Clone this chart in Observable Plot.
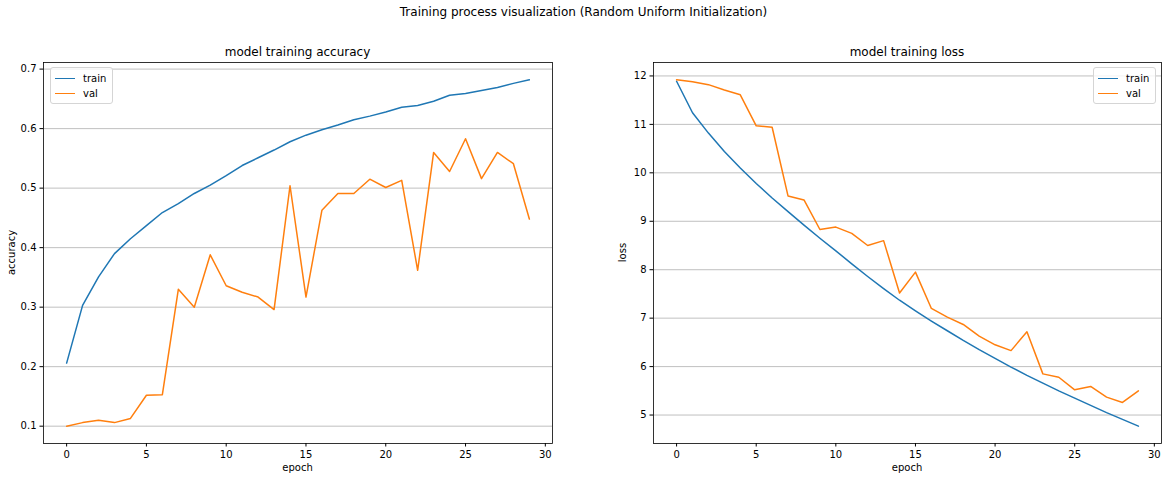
<!DOCTYPE html>
<html>
<head>
<meta charset="utf-8">
<script src="https://cdn.jsdelivr.net/npm/d3@7"></script>
<script src="https://cdn.jsdelivr.net/npm/@observablehq/plot@0.6"></script>
<style>
  html, body { margin: 0; padding: 0; background: #fff; }
  #fig { position: relative; width: 1167px; height: 481px; font-family: "DejaVu Sans", sans-serif; color: #000; overflow: hidden; }
  .abs { position: absolute; }
  .suptitle { left: 0; width: 1167px; top: 5px; text-align: center; font-size: 12px; }
  .title { font-size: 12px; text-align: center; }
  .xlabel { font-size: 10px; text-align: center; }
  .ylabel { font-size: 10px; transform-origin: 0 0; transform: rotate(-90deg); text-align: center; }
  .legend { border: 1px solid #d5d5d5; border-radius: 3px; background: rgba(255,255,255,0.8); font-size: 10px; padding: 3px 6px 2px 4px; box-sizing: border-box; }
  .legend .row { display: flex; align-items: center; height: 15px; }
  .legend .sw { width: 20px; height: 0; border-top: 1.5px solid; margin-right: 8px; }
</style>
</head>
<body>
<div id="fig">
  <div class="abs suptitle">Training process visualization (Random Uniform Initialization)</div>
</div>
<script>
const epochs = d3.range(0, 30);
const trainAcc = [0.206, 0.303, 0.351, 0.390, 0.415, 0.437, 0.459, 0.474, 0.491, 0.505, 0.521, 0.538, 0.551, 0.564, 0.578, 0.589, 0.598, 0.606, 0.615, 0.621, 0.628, 0.636, 0.639, 0.646, 0.656, 0.659, 0.664, 0.669, 0.676, 0.682];
const valAcc = [0.100, 0.106, 0.110, 0.106, 0.113, 0.152, 0.153, 0.330, 0.300, 0.388, 0.336, 0.325, 0.317, 0.296, 0.504, 0.317, 0.463, 0.491, 0.491, 0.515, 0.501, 0.513, 0.362, 0.560, 0.528, 0.583, 0.516, 0.560, 0.541, 0.448];
const trainLoss = [11.89, 11.24, 10.82, 10.44, 10.10, 9.78, 9.48, 9.20, 8.92, 8.65, 8.39, 8.12, 7.86, 7.61, 7.37, 7.15, 6.94, 6.74, 6.54, 6.35, 6.17, 5.99, 5.82, 5.66, 5.50, 5.35, 5.20, 5.05, 4.91, 4.77];
const valLoss = [11.92, 11.88, 11.82, 11.71, 11.61, 10.97, 10.94, 9.52, 9.44, 8.83, 8.88, 8.75, 8.50, 8.60, 7.52, 7.95, 7.20, 7.02, 6.87, 6.63, 6.45, 6.33, 6.72, 5.85, 5.78, 5.52, 5.59, 5.37, 5.26, 5.50];
const xTicks = [0, 5, 10, 15, 20, 25, 30];
const accTicks = [0.1, 0.2, 0.3, 0.4, 0.5, 0.6, 0.7];
const lossTicks = [5, 6, 7, 8, 9, 10, 11, 12];
const seriesNames = ["train", "val"];
const colors = ["#1f77b4", "#ff7f0e"];

const fig = document.getElementById("fig");

function pad(lo, hi) { const m = (hi - lo) * 0.05; return [lo - m, hi + m]; }

function addDiv(cls, text, style) {
  const d = document.createElement("div");
  d.className = "abs " + cls;
  d.textContent = text;
  Object.assign(d.style, style);
  fig.appendChild(d);
  return d;
}

function panel({left, width, marginLeft, marginRight, title, xlabel, ylabel, ylabelX, train, val, yTicks, yFmt, legendPos}) {
  const top = 40, height = 441, marginTop = 22, marginBottom = 38;
  const rows = [];
  epochs.forEach((e, i) => { rows.push({epoch: e, v: train[i], s: "train"}); rows.push({epoch: e, v: val[i], s: "val"}); });
  const all = train.concat(val);
  const svg = Plot.plot({
    width, height, marginLeft, marginRight, marginTop, marginBottom,
    style: {fontFamily: "DejaVu Sans", fontSize: "10px", color: "#000", background: "#fff", overflow: "visible"},
    x: {domain: pad(0, 29), ticks: xTicks, tickSize: 3.5, tickPadding: 3.5, label: null, tickFormat: d3.format("d")},
    y: {domain: pad(d3.min(all), d3.max(all)), ticks: yTicks, tickSize: 3.5, tickPadding: 3.5, label: null, tickFormat: yFmt},
    color: {domain: seriesNames, range: colors},
    marks: [
      Plot.gridY(yTicks, {stroke: "#b0b0b0", strokeOpacity: 1, strokeWidth: 0.8}),
      Plot.lineY(rows, {x: "epoch", y: "v", stroke: "s", strokeWidth: 1.5}),
      Plot.frame({stroke: "#000", strokeWidth: 0.8})
    ]
  });
  svg.style.position = "absolute";
  svg.style.left = left + "px";
  svg.style.top = top + "px";
  fig.appendChild(svg);

  const plotW = width - marginLeft - marginRight;
  const plotH = height - marginTop - marginBottom;
  addDiv("title", title, {left: (left + marginLeft) + "px", width: plotW + "px", top: "45px"});
  addDiv("xlabel", xlabel, {left: (left + marginLeft) + "px", width: plotW + "px", top: "462px"});
  addDiv("ylabel", ylabel, {left: ylabelX + "px", top: (top + marginTop + plotH) + "px", width: plotH + "px"});

  const lg = document.createElement("div");
  lg.className = "abs legend";
  Object.assign(lg.style, legendPos);
  seriesNames.forEach((n, i) => {
    const r = document.createElement("div"); r.className = "row";
    const sw = document.createElement("div"); sw.className = "sw"; sw.style.borderTopColor = colors[i];
    const tx = document.createElement("span"); tx.textContent = n;
    r.appendChild(sw); r.appendChild(tx); lg.appendChild(r);
  });
  fig.appendChild(lg);
}

panel({left: 0, width: 575, marginLeft: 43, marginRight: 23, title: "model training accuracy", xlabel: "epoch", ylabel: "accuracy", ylabelX: 6,
  train: trainAcc, val: valAcc, yTicks: accTicks, yFmt: d3.format(".1f"), legendPos: {left: "50px", top: "67px"}});
panel({left: 600, width: 567, marginLeft: 53, marginRight: 6, title: "model training loss", xlabel: "epoch", ylabel: "loss", ylabelX: 617,
  train: trainLoss, val: valLoss, yTicks: lossTicks, yFmt: d3.format("d"), legendPos: {left: "1093px", top: "67px"}});
</script>
</body>
</html>
